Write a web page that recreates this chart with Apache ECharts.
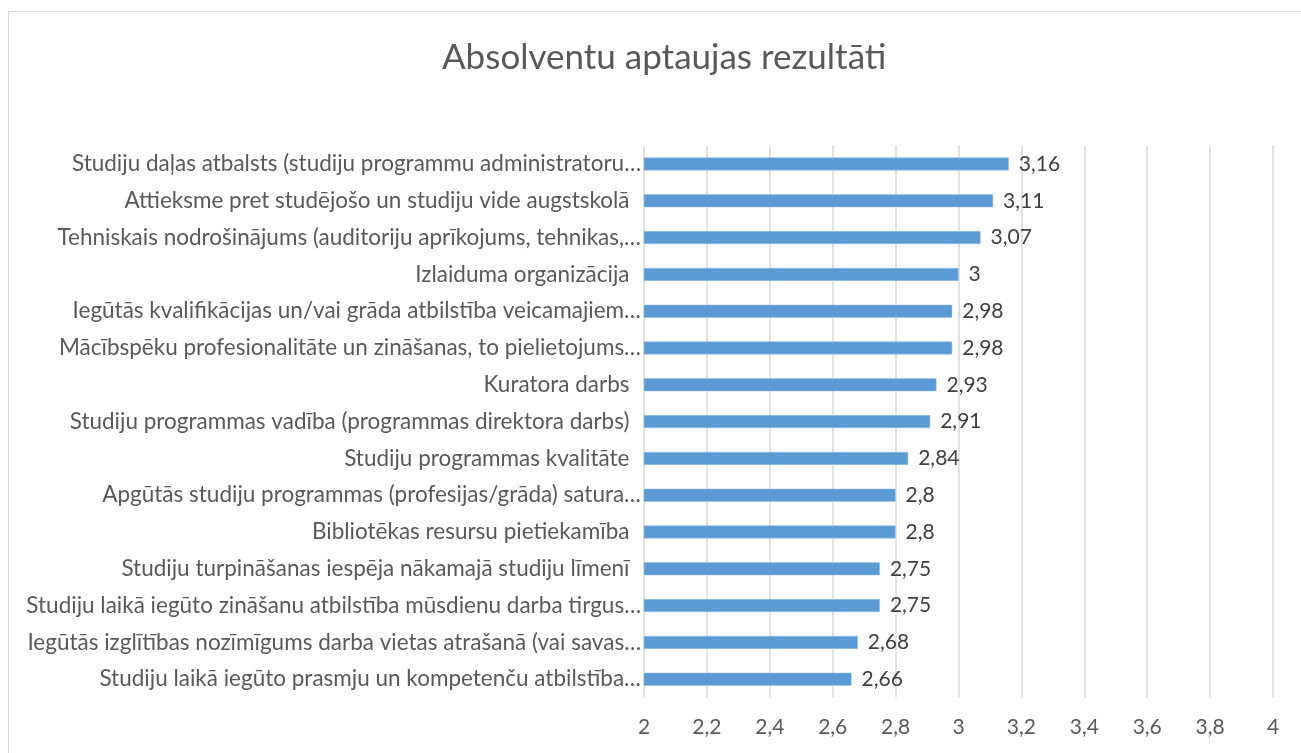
<!DOCTYPE html>
<html><head><meta charset="utf-8">
<script src="https://cdn.jsdelivr.net/npm/echarts@6/dist/echarts.min.js"></script>
<style>html,body{margin:0;padding:0;background:#fff}#c{width:1301px;height:753px}</style>
</head><body><div id="c"></div>
<script>
const categories = [
  "Studiju daļas atbalsts (studiju programmu administratoru…",
  "Attieksme pret studējošo un studiju vide augstskolā  ",
  "Tehniskais nodrošinājums (auditoriju aprīkojums, tehnikas,…",
  "Izlaiduma organizācija  ",
  "Iegūtās kvalifikācijas un/vai grāda atbilstība veicamajiem…",
  "Mācībspēku profesionalitāte un zināšanas, to pielietojums…",
  "Kuratora darbs  ",
  "Studiju programmas vadība (programmas direktora darbs)  ",
  "Studiju programmas kvalitāte  ",
  "Apgūtās studiju programmas (profesijas/grāda) satura…",
  "Bibliotēkas resursu pietiekamība  ",
  "Studiju turpināšanas iespēja nākamajā studiju līmenī  ",
  "Studiju laikā iegūto zināšanu atbilstība mūsdienu darba tirgus…",
  "Iegūtās izglītības nozīmīgums darba vietas atrašanā (vai savas…",
  "Studiju laikā iegūto prasmju un kompetenču atbilstība…"
];
const values = [3.16, 3.11, 3.07, 3, 2.98, 2.98, 2.93, 2.91, 2.84, 2.8, 2.8, 2.75, 2.75, 2.68, 2.66];
const title = "Absolventu aptaujas rezultāti";
const fmt = v => String(v).replace('.', ',');
const FONT = 'Lato, "Open Sans", sans-serif';

const chart = echarts.init(document.getElementById('c'));
chart.setOption({
  animation: false,
  textStyle: { fontFamily: FONT },
  title: {
    text: title, left: 437, top: 35,
    textStyle: { fontFamily: FONT, fontSize: 35, fontWeight: 'normal', color: '#595959' }
  },
  graphic: [
    { type: 'line', shape: { x1: 8.5, y1: 11, x2: 8.5, y2: 753 }, style: { stroke: '#d9d9d9', lineWidth: 1 } },
    { type: 'line', shape: { x1: 8, y1: 11.5, x2: 1301, y2: 11.5 }, style: { stroke: '#d9d9d9', lineWidth: 1 } }
  ],
  grid: { left: 644, right: 28, top: 145.6, bottom: 55.4, containLabel: false },
  xAxis: {
    type: 'value', min: 2, max: 4, interval: 0.2,
    axisLine: { show: false }, axisTick: { show: false },
    splitLine: { show: true, lineStyle: { color: '#d9d9d9', width: 1.5 } },
    axisLabel: { formatter: v => fmt(Math.round(v * 10) / 10), fontSize: 21, color: '#595959', margin: 19, fontFamily: FONT }
  },
  yAxis: {
    type: 'category', data: categories, inverse: true,
    axisLine: { show: false }, axisTick: { show: false },
    axisLabel: { fontSize: 22.5, color: '#595959', margin: 3, fontFamily: FONT, interval: 0 }
  },
  series: [{
    type: 'bar', data: values, barWidth: 13,
    itemStyle: { color: '#5b9bd5', borderColor: '#9dc3e6', borderWidth: 0.5 },
    label: { show: true, position: 'right', distance: 10, formatter: p => fmt(p.value), fontSize: 21, color: '#404040', fontFamily: FONT }
  }]
});
</script></body></html>
